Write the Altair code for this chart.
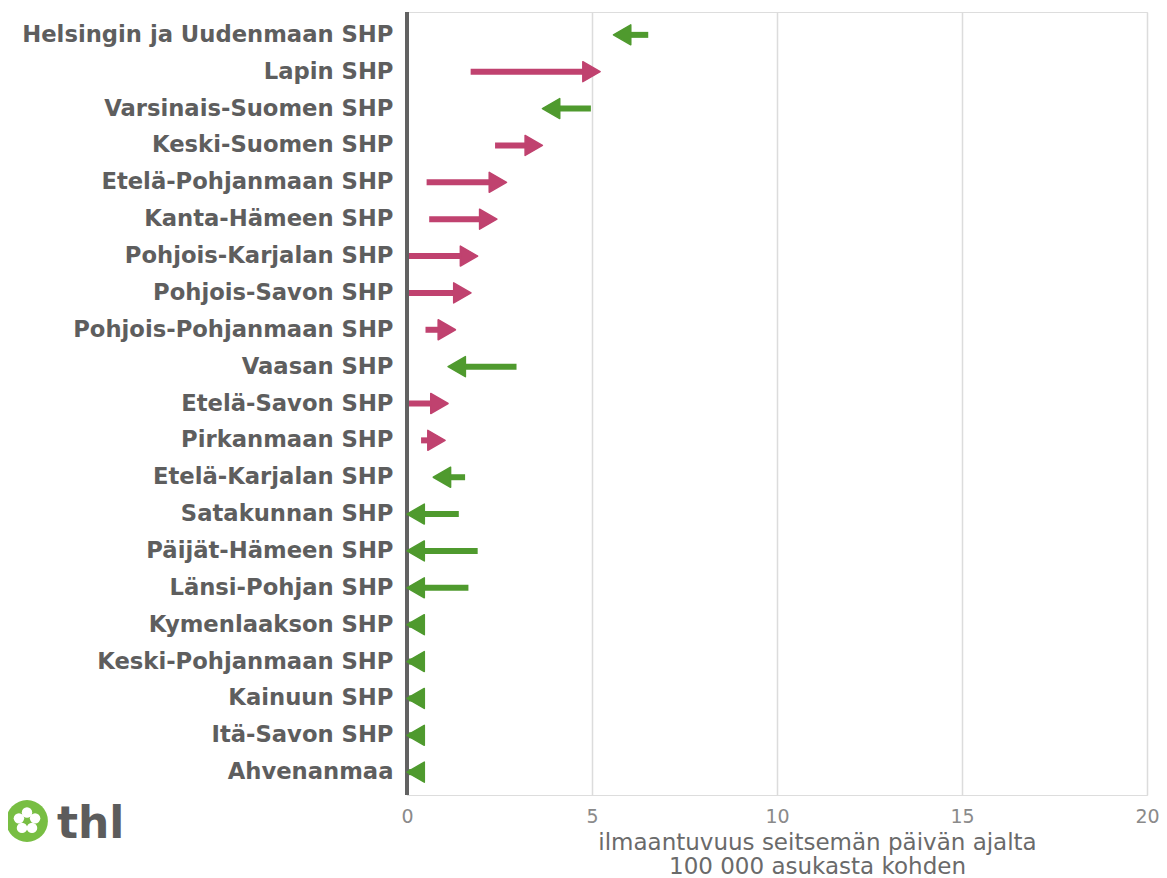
import altair as alt
import pandas as pd
import math

regions = [
    "Helsingin ja Uudenmaan SHP", "Lapin SHP", "Varsinais-Suomen SHP", "Keski-Suomen SHP",
    "Etelä-Pohjanmaan SHP", "Kanta-Hämeen SHP", "Pohjois-Karjalan SHP", "Pohjois-Savon SHP",
    "Pohjois-Pohjanmaan SHP", "Vaasan SHP", "Etelä-Savon SHP", "Pirkanmaan SHP",
    "Etelä-Karjalan SHP", "Satakunnan SHP", "Päijät-Hämeen SHP", "Länsi-Pohjan SHP",
    "Kymenlaakson SHP", "Keski-Pohjanmaan SHP", "Kainuun SHP", "Itä-Savon SHP", "Ahvenanmaa",
]
start_values = [6.52, 1.72, 4.97, 2.38, 0.53, 0.60, 0.0, 0.0, 0.50, 2.96, 0.0, 0.38,
                1.57, 1.40, 1.91, 1.66, 0.0, 0.0, 0.0, 0.0, 0.0]
end_values = [5.58, 5.22, 3.66, 3.66, 2.69, 2.43, 1.91, 1.73, 1.31, 1.11, 1.11, 1.03,
              0.71, 0.0, 0.0, 0.0, 0.0, 0.0, 0.0, 0.0, 0.0]
x_ticks = [0, 5, 10, 15, 20]
axis_title = ["ilmaantuvuus seitsemän päivän ajalta", "100 000 asukasta kohden"]

PINK = "#c0426f"
GREEN = "#4f9a2e"
FONT = "DejaVu Sans"
W, H = 740, 783

df = pd.DataFrame({"region": regions, "start": start_values, "end": end_values})
df["dir"] = ["up" if e > s else "down" for s, e in zip(start_values, end_values)]

base = alt.Chart(df)
y_enc = alt.Y("region:N", sort=regions, title=None,
              scale=alt.Scale(paddingInner=0, paddingOuter=0.12),
              axis=alt.Axis(labelFont=FONT, labelFontSize=22.7, labelFontWeight="bold",
                            labelColor="#5e5e5e", labelPadding=14, domain=False, ticks=False,
                            labelLimit=600))
x_scale = alt.Scale(domain=[0, 20], nice=False)
x_enc = alt.X("start:Q", scale=x_scale, title=axis_title,
              axis=alt.Axis(values=x_ticks, grid=True, gridColor="#dcdcdc", gridWidth=1.5,
                            domain=False, ticks=False, labelFont=FONT, labelFontSize=19,
                            labelColor="#8a8a8a", labelPadding=12, labelFlush=False,
                            titleFont=FONT, titleFontSize=23, titleFontWeight="normal",
                            titleColor="#6a6a6a", titleX=410, titleY=54, titleAlign="center",
                            titleBaseline="alphabetic", titleLineHeight=24))

H_HALF = math.sqrt(3) / 2 * 10  # half-length of triangle head (size 400)

axis_rule = base.mark_rule(color="#626262", strokeWidth=4).encode(
    x=alt.datum(0, scale=x_scale), y=alt.value(0), y2=alt.value(H))

up = base.transform_filter(alt.datum.dir == "up")
down = base.transform_filter(alt.datum.dir == "down")

up_shaft = up.mark_rule(color=PINK, strokeWidth=6, x2Offset=-9).encode(
    x=x_enc, x2="end:Q", y=y_enc)
down_shaft = down.mark_rule(color=GREEN, strokeWidth=6, x2Offset=9).encode(
    x=x_enc, x2="end:Q", y=y_enc)
up_head = up.mark_point(shape="triangle-right", filled=True, size=400, color=PINK,
                        opacity=1, stroke=PINK, strokeWidth=1.5, strokeJoin="round",
                        xOffset=-H_HALF).encode(
    x=alt.X("end:Q", scale=x_scale), y=alt.Y("region:N", sort=regions))
down_head = down.mark_point(shape="triangle-left", filled=True, size=400, color=GREEN,
                            opacity=1, stroke=GREEN, strokeWidth=1.5, strokeJoin="round",
                            xOffset=H_HALF).encode(
    x=alt.X("end:Q", scale=x_scale), y=alt.Y("region:N", sort=regions))

# thl logo (decoration)
logo_df = pd.DataFrame({"k": [0]})
logo_base = alt.Chart(logo_df)
logo_circle = logo_base.mark_point(shape="circle", filled=True, size=1750, color="#78be43",
                                   opacity=1).encode(x=alt.value(-380), y=alt.value(809))
petal_layers = []
for i in range(5):
    ang = math.radians(-90 + 72 * i)
    petal_layers.append(
        logo_base.mark_point(shape="circle", filled=True, size=110, color="white",
                             opacity=1).encode(
            x=alt.value(-380 + 8.5 * math.cos(ang)), y=alt.value(809 + 8.5 * math.sin(ang))))
logo_text = logo_base.mark_text(text="thl", font=FONT, fontSize=44, fontWeight="bold",
                                color="#5c5c5c", align="left", baseline="alphabetic",
                                dx=0).encode(x=alt.value(-350), y=alt.value(826))

chart = alt.layer(up_shaft, down_shaft, axis_rule, up_head, down_head,
                  logo_circle, *petal_layers, logo_text).properties(
    width=W, height=H,
    autosize=alt.AutoSizeParams(type="none"),
    padding={"left": 399, "top": 4, "right": 12, "bottom": 82},
).configure_view(stroke=None).configure(background="white")

chart.save("out.html", embed_options={"renderer": "svg", "actions": False})
